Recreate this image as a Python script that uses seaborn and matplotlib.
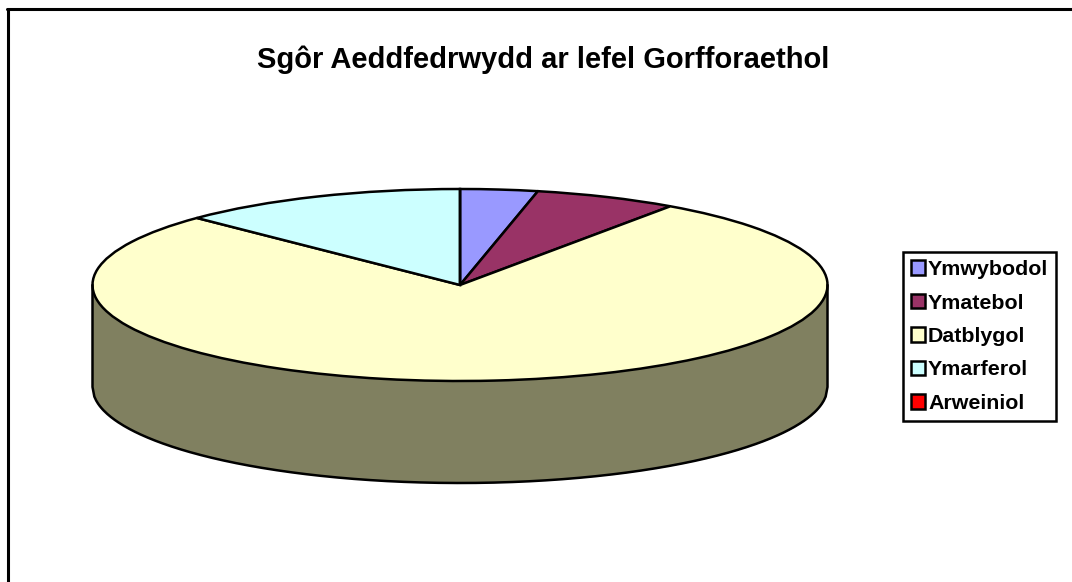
import numpy as np
import seaborn as sns
import matplotlib.pyplot as plt
from matplotlib.patches import Patch

categories = ['Ymwybodol', 'Ymatebol', 'Datblygol', 'Ymarferol', 'Arweiniol']
values = [3.4, 6.3, 77.6, 12.7, 0.0]
colors = ['#9999FF', '#993366', '#FFFFCC', '#CCFFFF', '#FF0000']
wall_color = '#808060'
title = 'Sgôr Aeddfedrwydd ar lefel Gorfforaethol'

W, H = 1072, 582
cx, cy, rx, ry, depth = 460, 285, 367.5, 96, 102

sns.set_theme(style='white')
plt.rcParams['font.family'] = ['Liberation Sans', 'DejaVu Sans']
palette = sns.color_palette(colors)

fig = plt.figure(figsize=(W / 100, H / 100), dpi=100, facecolor='white')
ax = fig.add_axes([0, 0, 1, 1])

# side wall of the disc, drawn behind the top
d = depth / ry
t = np.linspace(-1, 1, 400)
front = -np.sqrt(1 - t ** 2)
ax.fill_between(t, front - d, 0, color=wall_color, lw=0)
ax.plot(np.r_[-1, t, 1], np.r_[0, front - d, 0], color='black', lw=1.8,
        solid_joinstyle='round')

ax.pie(values, colors=palette, startangle=90, counterclock=False, radius=1,
       wedgeprops={'edgecolor': 'black', 'linewidth': 1.8})

# pie forces equal aspect, the tilted disc needs pixel scales instead
ax.set_aspect('auto')
ax.set_xlim(-cx / rx, (W - cx) / rx)
ax.set_ylim((cy - H) / ry, cy / ry)
ax.set_axis_off()

fig.text(543 / W, 1 - 60 / H, title, ha='center', va='center',
         fontsize=21, fontweight='bold', color='black')

# chart area border: only left and top edges are visible
fig.add_artist(plt.Line2D([7.5 / W, 7.5 / W], [0, 1 - 9 / H], color='black', lw=2.2))
fig.add_artist(plt.Line2D([6.5 / W, 1], [1 - 9 / H, 1 - 9 / H], color='black', lw=2.2))

handles = [Patch(facecolor=c, edgecolor='black', linewidth=1.8) for c in palette]
leg = ax.legend(handles, categories, loc='upper left',
                bbox_to_anchor=(903 / W, 1 - 252 / H), bbox_transform=fig.transFigure,
                prop={'weight': 'bold', 'size': 15.4}, labelcolor='black',
                frameon=True, fancybox=False, framealpha=1, edgecolor='black',
                handlelength=0.65, handleheight=0.65, handletextpad=0.14,
                labelspacing=0.675, borderpad=0.38, borderaxespad=0)
leg.get_frame().set_linewidth(1.8)

fig.savefig('out.png', dpi=100)
